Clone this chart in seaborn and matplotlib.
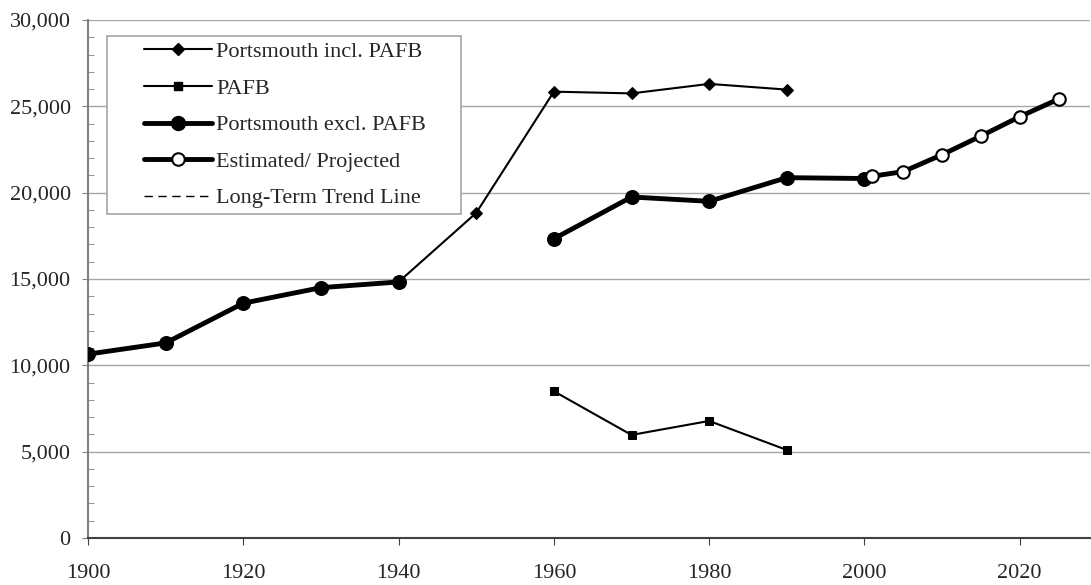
import numpy as np
import pandas as pd
import matplotlib
matplotlib.use("Agg")
import matplotlib.pyplot as plt
import seaborn as sns
from matplotlib.lines import Line2D
from matplotlib.legend_handler import HandlerLine2D
from matplotlib.ticker import MultipleLocator, FuncFormatter

# values
incl_years = [1900, 1910, 1920, 1930, 1940, 1950, 1960, 1970, 1980, 1990]
incl_pop = [10650, 11300, 13600, 14500, 14830, 18830, 25850, 25750, 26300, 25970]

pafb_years = [1960, 1970, 1980, 1990]
pafb_pop = [8500, 5970, 6780, 5100]

excl_early_years = [1900, 1910, 1920, 1930, 1940]
excl_early_pop = [10650, 11300, 13600, 14500, 14830]
excl_late_years = [1960, 1970, 1980, 1990, 2000]
excl_late_pop = [17330, 19750, 19500, 20870, 20820]

est_years = [2000, 2001, 2005, 2010, 2015, 2020, 2025]
est_pop = [20820, 20950, 21220, 22200, 23280, 24400, 25420]

labels = ["Portsmouth incl. PAFB", "PAFB", "Portsmouth excl. PAFB",
          "Estimated/ Projected", "Long-Term Trend Line"]

sns.set_style("white")
plt.rcParams["font.family"] = ["Liberation Serif", "DejaVu Serif"]
plt.rcParams["font.size"] = 16

fig = plt.figure(figsize=(10.91, 5.85), dpi=100)
ax = fig.add_axes([0.0807, 0.0803, 0.918, 0.8855])

for y in range(5000, 30001, 5000):
    ax.axhline(y, color="#a6a6a6", lw=1, zorder=0)

sns.lineplot(x=incl_years, y=incl_pop, ax=ax, color="black", lw=1.5,
             marker="D", markersize=6.5, markeredgecolor="black", zorder=3)
sns.lineplot(x=pafb_years, y=pafb_pop, ax=ax, color="black", lw=1.5,
             marker="s", markersize=6, markeredgecolor="black", zorder=3)
sns.lineplot(x=excl_early_years, y=excl_early_pop, ax=ax, color="black", lw=3.5,
             marker="o", markersize=10, markeredgecolor="black", zorder=4)
sns.lineplot(x=excl_late_years, y=excl_late_pop, ax=ax, color="black", lw=3.5,
             marker="o", markersize=10, markeredgecolor="black", zorder=4)
sns.lineplot(x=est_years[1:], y=est_pop[1:], ax=ax, color="black", lw=3.5, zorder=4)
ax.plot(est_years[:2], est_pop[:2], color="black", lw=3.5, zorder=4)
ax.plot(est_years[1:], est_pop[1:], ls="none", marker="o", markersize=9,
        markerfacecolor="white", markeredgecolor="black", markeredgewidth=1.5, zorder=5)

ax.set_xlim(1900, 2029)
ax.set_ylim(0, 30000)
ax.xaxis.set_major_locator(MultipleLocator(20))
ax.yaxis.set_major_locator(MultipleLocator(5000))
ax.yaxis.set_minor_locator(MultipleLocator(1000))
ax.yaxis.set_major_formatter(FuncFormatter(lambda v, p: f"{int(v):,}"))
ax.tick_params(axis="y", which="major", direction="out", length=4.5, color="#808080",
               left=True, pad=8, labelsize=16)
ax.tick_params(axis="y", which="minor", direction="in", length=4, color="#808080", left=True)
ax.tick_params(axis="x", which="major", direction="out", length=5, color="#404040",
               bottom=True, pad=14, labelsize=16)

for s in ["top", "right"]:
    ax.spines[s].set_visible(False)
ax.spines["left"].set_color("#808080")
ax.spines["left"].set_linewidth(1.5)
ax.spines["bottom"].set_color("#404040")
ax.spines["bottom"].set_linewidth(1.5)
ax.set_xlabel("")
ax.set_ylabel("")

handles = [
    Line2D([], [], color="black", lw=1.5, marker="D", markersize=6.5),
    Line2D([], [], color="black", lw=1.5, marker="s", markersize=6),
    Line2D([], [], color="black", lw=3.5, marker="o", markersize=10),
    Line2D([], [], color="black", lw=3.5, marker="o", markersize=9,
           markerfacecolor="white", markeredgewidth=1.5),
    Line2D([], [], color="black", lw=1, ls=(0, (6, 4))),
]
hmap = {h: HandlerLine2D(xpad=1.4) for h in handles}
leg = ax.legend(handles, labels, loc="upper left",
                bbox_to_anchor=(0.019, 0.969, 0.353, 0.0), mode="expand",
                borderaxespad=0, handler_map=hmap,
                frameon=True, fancybox=False, edgecolor="#a6a6a6", framealpha=1,
                handlelength=4.45, handletextpad=0.22, labelspacing=0.72,
                borderpad=0.25, fontsize=16)
leg.get_frame().set_linewidth(1.2)

fig.savefig("out.png", dpi=100)
